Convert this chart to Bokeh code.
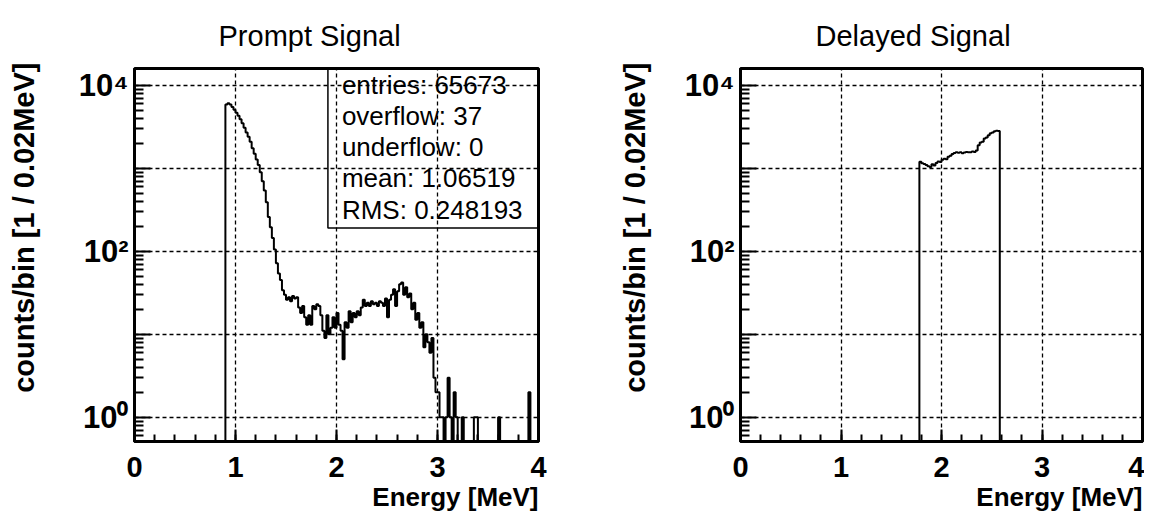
import numpy as np
from bokeh.plotting import figure
from bokeh.models import Range1d, FixedTicker, Label, BoxAnnotation, Title
from bokeh.layouts import row
from bokeh.embed import file_html
from bokeh.resources import INLINE

FONT = "Liberation Sans"
BIN_WIDTH = 0.02  # MeV

# ---------------- data (counts per 0.02 MeV bin) ----------------
prompt_start = 0.90
prompt_peak_counts = [
    5900, 6100, 5900, 5500, 5100, 4700, 4300, 3900, 3500, 3100,
    2700, 2400, 2100, 1750, 1500, 1280, 1100, 900, 700, 540,
    390, 260, 195, 145, 105, 72, 54, 45, 34,
]
prompt_plateau_counts = [
    30, 26, 28, 25, 29, 27, 28, 21, 18, 22,
    16, 13, 17, 13, 22, 20, 23, 22, 17, 11,
    9, 17, 10, 12, 16, 12, 18, 13, 11, 5,
    14, 12, 19, 14, 18, 16, 19, 17, 21, 26,
    22, 24, 22, 25, 23, 24, 22, 25, 24, 22,
    27, 16, 26, 30, 35, 22, 33, 40, 42, 30,
    37, 28, 31, 20, 24, 15, 18, 12, 14, 7,
    10, 8, 6, 9, 3, 2,
]
prompt_tail_counts = [
    2, 1, 1, 0, 1, 3, 1, 0, 2, 1,
    0, 0, 1, 0, 0, 0, 0, 0, 1, 1,
    0, 0, 0, 0, 0, 0, 0, 0, 0, 0,
    1, 0, 0, 0, 0, 0, 0, 0, 0, 0,
    0, 0, 0, 0, 0, 2, 0, 0, 0, 0,
]
delayed_start = 1.78
delayed_counts = [
    1200, 1150, 1130, 1100, 1060, 1040, 1120, 1080, 1160, 1210,
    1190, 1270, 1310, 1290, 1380, 1420, 1490, 1530, 1560, 1540,
    1570, 1520, 1550, 1580, 1560, 1570, 1600, 1580, 1640, 1900,
    2050, 2100, 2300, 2350, 2500, 2650, 2700, 2800, 2850, 2820,
]

stats_lines = ["entries: 65673", "overflow: 37", "underflow: 0",
               "mean: 1.06519", "RMS: 0.248193"]
titles = ["Prompt Signal", "Delayed Signal"]
x_label = "Energy [MeV]"
y_label = "counts/bin [1 / 0.02MeV]"
x_major_ticks = [0, 1, 2, 3, 4]
x_grid_lines = [1, 2, 3]
y_decades = [1, 10, 100, 1000, 10000]
y_tick_labels = {1: "10\u2070", 10: "", 100: "10\u00b2", 1000: "", 10000: "10\u2074"}

X_MIN, X_MAX = 0.0, 4.0
Y_MIN, Y_MAX = 0.51, 16000.0
FLOOR = 0.05


def step_path(start, counts):
    c = np.asarray(counts, dtype=float)
    edges = start + BIN_WIDTH * np.arange(len(c) + 1)
    vals = np.where(c > 0, c, FLOOR)
    xs = np.repeat(edges, 2)
    ys = np.concatenate([[FLOOR], np.repeat(vals, 2), [FLOOR]])
    return xs, ys


def make_panel(width, bl, br, title, title_offset, start, counts,
               ylabel_pad_line, ylabel_standoff, stats=False):
    p = figure(width=width, height=511,
               x_range=Range1d(X_MIN, X_MAX), y_range=Range1d(Y_MIN, Y_MAX),
               y_axis_type="log", output_backend="svg", toolbar_location=None,
               min_border_left=bl, min_border_right=br,
               min_border_top=66, min_border_bottom=63)
    p.background_fill_color = "white"
    p.border_fill_color = "white"
    p.outline_line_color = "black"
    p.outline_line_width = 3

    p.title.text = title
    p.title.align = "left"
    p.title.offset = title_offset
    p.title.text_font = FONT
    p.title.text_font_style = "normal"
    p.title.text_font_size = "29px"
    p.title.text_color = "black"
    p.title.standoff = 34

    xa = p.xaxis[0]
    xa.ticker = FixedTicker(ticks=x_major_ticks,
                            minor_ticks=[round(v, 2) for v in np.arange(0, 4.001, 0.2)])
    xa.major_tick_in = 12
    xa.major_tick_out = 0
    xa.minor_tick_in = 7
    xa.minor_tick_out = 0
    xa.axis_line_width = 3
    xa.major_tick_line_width = 2
    xa.minor_tick_line_width = 2
    xa.major_label_text_font = FONT
    xa.major_label_text_font_style = "bold"
    xa.major_label_text_font_size = "29px"
    xa.major_label_text_color = "black"
    xa.major_label_standoff = 15

    ya = p.yaxis[0]
    minor = []
    for d in [0.1, 1, 10, 100, 1000]:
        minor += [d * k for k in range(2, 10)]
    ya.ticker = FixedTicker(ticks=y_decades, minor_ticks=minor)
    ya.major_tick_in = 16
    ya.major_tick_out = 0
    ya.minor_tick_in = 9
    ya.minor_tick_out = 0
    ya.axis_line_width = 3
    ya.major_tick_line_width = 2
    ya.minor_tick_line_width = 2
    ya.major_label_overrides = y_tick_labels
    ya.major_label_text_font = FONT
    ya.major_label_text_font_style = "bold"
    ya.major_label_text_font_size = "31px"
    ya.major_label_text_color = "black"
    ya.major_label_standoff = 6

    p.add_layout(Title(text=x_label, align="right", text_font=FONT,
                       text_font_style="bold", text_font_size="26px",
                       text_color="black", standoff=0), "below")
    # an optional trailing blank line keeps a gap between the label and the tick labels
    ytext = y_label + ("\n\u00a0" if ylabel_pad_line else "")
    p.add_layout(Title(text=ytext, align="right", offset=-6, text_font=FONT,
                       text_font_style="bold", text_font_size="29px",
                       text_color="black", standoff=ylabel_standoff), "left")

    p.xgrid.ticker = FixedTicker(ticks=x_grid_lines)
    p.ygrid.ticker = FixedTicker(ticks=y_decades)
    for g in (p.xgrid[0], p.ygrid[0]):
        g.grid_line_color = "black"
        g.grid_line_dash = "4 3"
        g.grid_line_width = 1.3
        g.grid_line_alpha = 1.0

    xs, ys = step_path(start, counts)
    p.line(xs, ys, line_color="black", line_width=2)

    if stats:
        p.add_layout(BoxAnnotation(left=1.915, right=X_MAX, bottom=191, top=Y_MAX,
                                   fill_color=None, line_color="black",
                                   line_alpha=1.0, line_width=1.5))
        for i, s in enumerate(stats_lines):
            p.add_layout(Label(x=1.915, y=Y_MAX, x_offset=14, y_offset=-(16 + 31.25 * i),
                               text=s, text_align="left", text_baseline="middle",
                               text_font=FONT, text_font_size="26px", text_color="black"))
    return p


p1 = make_panel(568, 134, 30, titles[0], 84, prompt_start,
                prompt_peak_counts + prompt_plateau_counts + prompt_tail_counts,
                True, 8, stats=True)
p2 = make_panel(576, 172, 2, titles[1], 75, delayed_start, delayed_counts,
                False, 62)

layout = row(p1, p2)
open("out.html", "w").write(file_html(layout, INLINE))
